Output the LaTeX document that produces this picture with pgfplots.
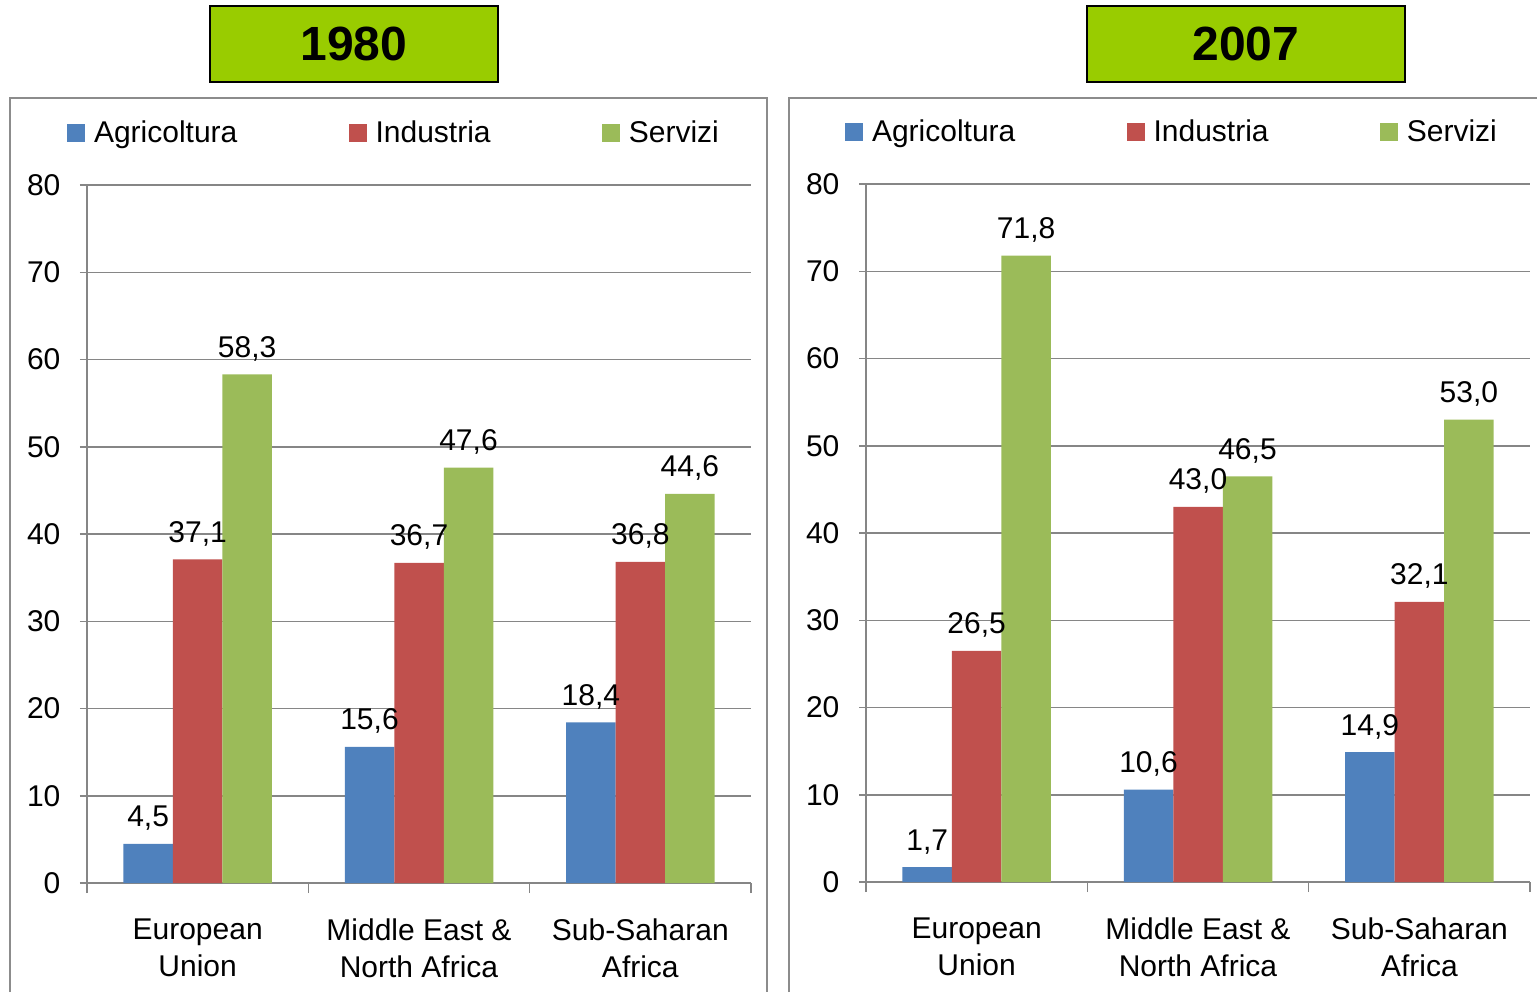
\documentclass[border=0pt]{standalone}
\usepackage{fontspec}
\setmainfont{Liberation Sans}
\usepackage{pgfplots}
\pgfplotsset{compat=1.18}

\definecolor{agri}{HTML}{4F81BD}
\definecolor{ind}{HTML}{C0504D}
\definecolor{serv}{HTML}{9BBB59}
\definecolor{titlegreen}{HTML}{99CC00}
\definecolor{framec}{HTML}{8C8C8C}
\definecolor{gridc}{HTML}{868686}

\newcommand{\lab}{\fontsize{15pt}{18.5pt}\selectfont}

\pgfplotsset{
  sqlegend/.style={legend image code/.code={\fill[##1] (0pt,-4.5pt) rectangle (9pt,4.5pt);}},
  panel/.style={
    scale only axis, width=332pt, height=349pt,
    anchor=south west,
    ybar=0pt, bar width=24.75pt,
    xmin=-0.5, xmax=2.5, ymin=0, ymax=80,
    ytick={0,10,...,80},
    xtick={-0.5,0.5,1.5,2.5},
    x tick label as interval,
    xticklabels={European\\Union, Middle East \&\\North Africa, Sub-Saharan\\Africa},
    axis x line*=bottom, axis y line*=left,
    axis line style={gridc, line width=0.75pt},
    ymajorgrids, grid style={gridc, line width=0.75pt},
    tick align=outside,
    tick style={gridc, line width=0.75pt},
    xtick style={/pgfplots/major tick length=5pt},
    ytick style={/pgfplots/major tick length=3.5pt},
    /pgf/number format/assume math mode=true,
    ticklabel style={font=\lab},
    xticklabel style={align=center, yshift=-10pt},
    yticklabel style={xshift=-5.5pt},
    nodes near coords,
    every node near coord/.append style={font=\lab, black, anchor=base, yshift=8.5pt,
      /pgf/number format/fixed, /pgf/number format/fixed zerofill,
      /pgf/number format/precision=1, /pgf/number format/use comma},
    legend columns=3,
    legend style={draw=none, fill=none, inner sep=0pt, font=\lab, anchor=west,
      /tikz/every odd column/.append style={column sep=2.3pt},
      /tikz/every even column/.append style={column sep=53.8pt}},
  },
}

\pgfplotstableread{
x agri ind serv
0 4.5 37.1 58.3
1 15.6 36.7 47.6
2 18.4 36.8 44.6
}\dataA
\pgfplotstableread{
x agri ind serv
0 1.7 26.5 71.8
1 10.6 43.0 46.5
2 14.9 32.1 53.0
}\dataB

\begin{document}
\begin{tikzpicture}
\useasboundingbox (0pt,0pt) rectangle (768.5pt,-496pt);

% panel frames
\draw[framec, line width=1pt] (5pt,-496pt) -- (5pt,-49pt) -- (383.5pt,-49pt) -- (383.5pt,-496pt);
\draw[framec, line width=1pt] (394.5pt,-496pt) -- (394.5pt,-49pt) -- (768.5pt,-49pt);

% year boxes
\node[draw=black, line width=1pt, fill=titlegreen, minimum width=144pt, minimum height=38pt,
  inner sep=0pt, font=\bfseries\fontsize{24pt}{24pt}\selectfont] at (177pt,-22pt) {\raisebox{-1pt}{1980}};
\node[draw=black, line width=1pt, fill=titlegreen, minimum width=159pt, minimum height=38pt,
  inner sep=0pt, font=\bfseries\fontsize{24pt}{24pt}\selectfont] at (623pt,-22pt) {\raisebox{-1pt}{2007}};

\begin{axis}[panel, at={(43.5pt,-441.5pt)},
  legend style={at={(axis description cs:-0.0301,1.0738)}}]
  \addplot[fill=agri, draw=none, sqlegend] table[x=x, y=agri] {\dataA};
  \addplot[fill=ind, draw=none, sqlegend] table[x=x, y=ind] {\dataA};
  \addplot[fill=serv, draw=none, sqlegend] table[x=x, y=serv] {\dataA};
  \legend{Agricoltura, Industria, Servizi}
\end{axis}

\begin{axis}[panel, at={(433pt,-441pt)},
  legend style={at={(axis description cs:-0.0316,1.0738)}}]
  \addplot[fill=agri, draw=none, sqlegend] table[x=x, y=agri] {\dataB};
  \addplot[fill=ind, draw=none, sqlegend] table[x=x, y=ind] {\dataB};
  \addplot[fill=serv, draw=none, sqlegend] table[x=x, y=serv] {\dataB};
  \legend{Agricoltura, Industria, Servizi}
\end{axis}
\end{tikzpicture}
\end{document}
